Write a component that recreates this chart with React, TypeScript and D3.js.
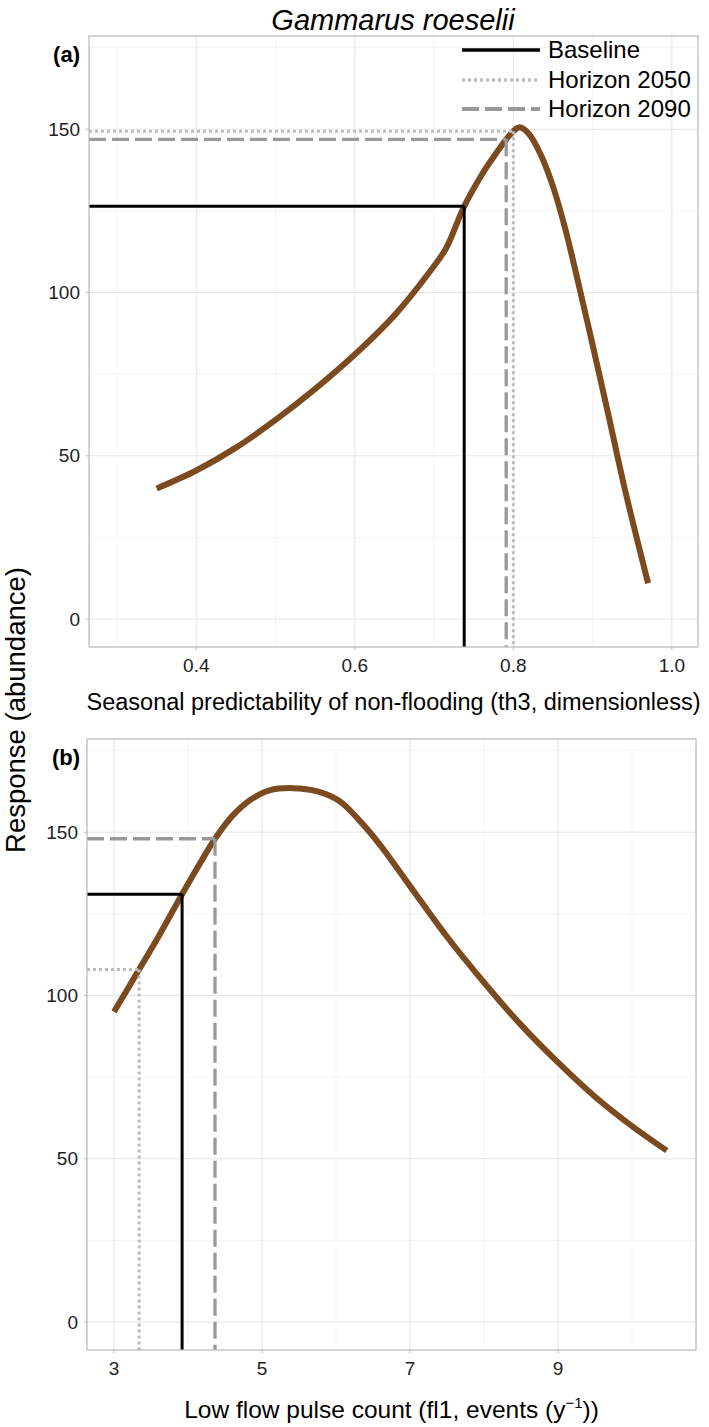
import React from "react";
import * as d3 from "d3";

// ---------- data ----------
const curveAX = [0.35, 0.4, 0.45, 0.5, 0.55, 0.6, 0.65, 0.695, 0.715, 0.738, 0.76, 0.775, 0.791, 0.8, 0.808, 0.82, 0.835, 0.85, 0.865, 0.88, 0.9, 0.92, 0.94, 0.97];
const curveAY = [40, 45.5, 52.5, 61, 70.5, 81, 93, 106.5, 113.5, 126.4, 136, 141.5, 146.9, 149.4, 150.6, 148.5, 142, 132.5, 120, 105, 84, 62.5, 40.5, 11];

const curveBX = [3.0, 3.34, 3.6, 3.92, 4.15, 4.365, 4.6, 4.85, 5.1, 5.42, 5.75, 6.05, 6.3, 6.6, 7.0, 7.5, 8.0, 8.5, 9.0, 9.5, 10.0, 10.47];
const curveBY = [95, 108, 118, 131, 140, 148, 155, 160, 162.8, 163.5, 162.5, 159.5, 154, 146, 133.5, 118, 104, 91, 79.5, 69, 60, 52.5];

const scenarios = ["Baseline", "Horizon 2050", "Horizon 2090"];
const refAX = [0.738, 0.8, 0.791];
const refAY = [126.4, 149.4, 146.9];
const refBX = [3.92, 3.34, 4.365];
const refBY = [131, 108, 148];

const xTicksA = [0.4, 0.6, 0.8, 1.0];
const xMinorA = [0.3, 0.5, 0.7, 0.9];
const xTicksB = [3, 5, 7, 9];
const xMinorB = [4, 6, 8, 10];
const yTicks = [0, 50, 100, 150];
const yMinor = [25, 75, 125, 175];

// ---------- styles ----------
const FONT = "'Liberation Sans', Arial, Helvetica, sans-serif";
const CURVE_COLOR = "#7b4a1f";
const scenarioStyle = [
  { stroke: "#000000", width: 3, dash: undefined as string | undefined },
  { stroke: "#bdbdbd", width: 3, dash: "3,3" },
  { stroke: "#999999", width: 3.3, dash: "17,6" },
];

type PanelProps = {
  label: string;
  xDomain: [number, number];
  xRange: [number, number];
  yRange: [number, number];
  curveX: number[];
  curveY: number[];
  refX: number[];
  refY: number[];
  xTicks: number[];
  xMinor: number[];
  xFmt: (v: number) => string;
  xTitle: React.ReactNode;
  xTitleY: number;
  xTitleSize: number;
};

const yDomain: [number, number] = [-8.55, 178.55];

function Panel(p: PanelProps) {
  const x = d3.scaleLinear().domain(p.xDomain).range(p.xRange);
  const y = d3.scaleLinear().domain(yDomain).range(p.yRange);
  const [x0, x1] = p.xRange;
  const [yb, yt] = p.yRange;
  const pts: [number, number][] = p.curveX.map((v, i) => [v, p.curveY[i]]);
  const line = d3
    .line<[number, number]>()
    .x((d) => x(d[0]))
    .y((d) => y(d[1]))
    .curve(d3.curveCatmullRom.alpha(0.5));
  return (
    <g>
      {/* minor grid */}
      {p.xMinor.map((v) => (
        <line key={"xm" + v} x1={x(v)} x2={x(v)} y1={yt} y2={yb} stroke="#f3f3f3" strokeWidth={0.8} />
      ))}
      {yMinor.map((v) => (
        <line key={"ym" + v} x1={x0} x2={x1} y1={y(v)} y2={y(v)} stroke="#f3f3f3" strokeWidth={0.8} />
      ))}
      {/* major grid */}
      {p.xTicks.map((v) => (
        <line key={"xg" + v} x1={x(v)} x2={x(v)} y1={yt} y2={yb} stroke="#e6e6e6" strokeWidth={1} />
      ))}
      {yTicks.map((v) => (
        <line key={"yg" + v} x1={x0} x2={x1} y1={y(v)} y2={y(v)} stroke="#e6e6e6" strokeWidth={1} />
      ))}
      {/* curve */}
      <path d={line(pts) || ""} fill="none" stroke={CURVE_COLOR} strokeWidth={6} strokeLinecap="butt" strokeLinejoin="round" />
      {/* reference lines */}
      {p.refX.map((rx, i) => {
        const s = scenarioStyle[i];
        return (
          <g key={"ref" + i}>
            <line x1={x0} x2={x(rx)} y1={y(p.refY[i])} y2={y(p.refY[i])} stroke={s.stroke} strokeWidth={s.width} strokeDasharray={s.dash} />
            <line x1={x(rx)} x2={x(rx)} y1={y(p.refY[i])} y2={yb} stroke={s.stroke} strokeWidth={s.width} strokeDasharray={s.dash} />
          </g>
        );
      })}
      {/* border */}
      <rect x={x0} y={yt} width={x1 - x0} height={yb - yt} fill="none" stroke="#b8b8b8" strokeWidth={1.2} />
      {/* ticks */}
      {p.xTicks.map((v) => (
        <line key={"xt" + v} x1={x(v)} x2={x(v)} y1={yb} y2={yb + 3} stroke="#b8b8b8" strokeWidth={1} />
      ))}
      {yTicks.map((v) => (
        <line key={"yt" + v} x1={x0 - 3} x2={x0} y1={y(v)} y2={y(v)} stroke="#b8b8b8" strokeWidth={1} />
      ))}
      {/* tick labels */}
      {p.xTicks.map((v) => (
        <text key={"xl" + v} x={x(v)} y={yb + 25} textAnchor="middle" fontSize={19} fill="#222" fontFamily={FONT}>
          {p.xFmt(v)}
        </text>
      ))}
      {yTicks.map((v) => (
        <text key={"yl" + v} x={x0 - 9} y={y(v)} dy="0.35em" textAnchor="end" fontSize={19} fill="#222" fontFamily={FONT}>
          {v}
        </text>
      ))}
      {/* panel label */}
      <text x={80} y={yt + 26} textAnchor="end" fontSize={22} fontWeight="bold" fill="#000" fontFamily={FONT}>
        {p.label}
      </text>
      {/* axis title */}
      <text x={(x0 + x1) / 2} y={p.xTitleY} textAnchor="middle" fontSize={p.xTitleSize} fill="#000" fontFamily={FONT}>
        {p.xTitle}
      </text>
    </g>
  );
}

export default function App() {
  const W = 709;
  const H = 1427;
  const legendX0 = 462;
  const legendX1 = 540;
  const legendYs = [50, 80, 109];
  return (
    <svg width={W} height={H} style={{ position: "absolute", left: 0, top: 0, background: "#fff" }}>
      <rect x={0} y={0} width={W} height={H} fill="#fff" />
      <text x={393} y={30} textAnchor="middle" fontSize={29} fontStyle="italic" fill="#000" fontFamily={FONT}>
        Gammarus roeselii
      </text>
      <Panel
        label="(a)"
        xDomain={[0.2646, 1.033]}
        xRange={[89, 698]}
        yRange={[647, 36]}
        curveX={curveAX}
        curveY={curveAY}
        refX={refAX}
        refY={refAY}
        xTicks={xTicksA}
        xMinor={xMinorA}
        xFmt={(v) => d3.format(".1f")(v)}
        xTitle="Seasonal predictability of non-flooding (th3, dimensionless)"
        xTitleY={710}
        xTitleSize={23.5}
      />
      <Panel
        label="(b)"
        xDomain={[2.635, 10.865]}
        xRange={[87, 696]}
        yRange={[1350, 739]}
        curveX={curveBX}
        curveY={curveBY}
        refX={refBX}
        refY={refBY}
        xTicks={xTicksB}
        xMinor={xMinorB}
        xFmt={(v) => String(v)}
        xTitle={
          <>
            Low flow pulse count (fl1, events (y
            <tspan fontSize={15} dy={-10}>−1</tspan>
            <tspan dy={10}>))</tspan>
          </>
        }
        xTitleY={1418}
        xTitleSize={24.5}
      />
      {/* legend */}
      {scenarios.map((name, i) => {
        const s = scenarioStyle[i];
        return (
          <g key={name}>
            <line x1={legendX0} x2={legendX1} y1={legendYs[i]} y2={legendYs[i]} stroke={s.stroke} strokeWidth={s.width + 0.5} strokeDasharray={s.dash} />
            <text x={548} y={legendYs[i]} dy="0.35em" fontSize={24} fill="#000" fontFamily={FONT}>
              {name}
            </text>
          </g>
        );
      })}
      {/* shared y title */}
      <text
        transform={`translate(25, 710) rotate(-90)`}
        textAnchor="middle"
        fontSize={27.5}
        fill="#000"
        fontFamily={FONT}
      >
        Response (abundance)
      </text>
    </svg>
  );
}
